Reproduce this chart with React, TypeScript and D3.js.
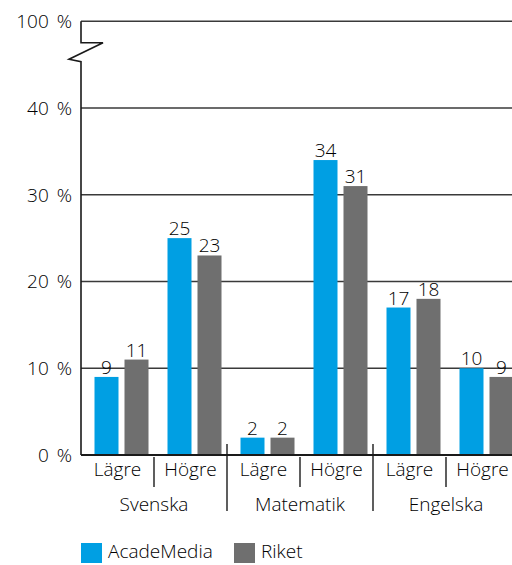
import React from "react";
import * as d3 from "d3";

const subjects = ["Svenska", "Matematik", "Engelska"];
const levels = ["Lägre", "Högre"];
const series = ["AcadeMedia", "Riket"];
const acadeMedia = [9, 25, 2, 34, 17, 10];
const riket = [11, 23, 2, 31, 18, 9];
const yTicks = [0, 10, 20, 30, 40];
const topTickLabel = "100 %";
const colors = ["#009FE3", "#6F6F6F"];

const W = 512;
const H = 565;
const FONT = "'Open Sans', 'Noto Sans', sans-serif";

export default function App() {
  const x0 = 81;
  const y = d3.scaleLinear().domain([0, 40]).range([455, 108]);
  const yTop = y(50);
  const xSubj = d3.scaleBand().domain(subjects).range([x0, 519]);
  const xLevel = d3.scaleBand().domain(levels).range([0, xSubj.bandwidth()]);
  const pairW = 54;
  const xSeries = d3.scaleBand().domain(series).range([0, pairW]).paddingInner(0.2);
  const values = [acadeMedia, riket];

  const bars: any[] = [];
  subjects.forEach((s, si) => {
    levels.forEach((l, li) => {
      const idx = si * levels.length + li;
      const cellX = (xSubj(s) as number) + (xLevel(l) as number);
      const pairX = cellX + (xLevel.bandwidth() - pairW) / 2 + 4;
      series.forEach((se, k) => {
        const v = values[k][idx];
        bars.push({ key: `${s}-${l}-${se}`, x: pairX + (xSeries(se) as number), v, color: colors[k] });
      });
    });
  });

  const textColor = "#000";
  const fw = 300;
  const fs = 19;
  const breakPath = `M${x0},${yTop} V${yTop + 21.5} H${x0 + 22} L${x0 - 12},${yTop + 38} L${x0},${yTop + 40.5} V${y(0)}`;

  return (
    <svg width={W} height={H} style={{ position: "absolute", left: 0, top: 0, display: "block" }} fontFamily={FONT} fontWeight={fw}>
      <rect width={W} height={H} fill="#fff" />
      {yTicks.filter((t) => t > 0).map((t) => (
        <line key={t} x1={x0} x2={W} y1={y(t)} y2={y(t)} stroke="#3a3a3a" strokeWidth={1.6} />
      ))}
      <line x1={x0} x2={W} y1={yTop} y2={yTop} stroke="#3a3a3a" strokeWidth={1.6} />
      {bars.map((b) => (
        <g key={b.key}>
          <rect x={b.x} y={y(b.v)} width={xSeries.bandwidth()} height={y(0) - y(b.v)} fill={b.color} />
          <text x={b.x + xSeries.bandwidth() / 2} y={y(b.v) - 3} textAnchor="middle" fontSize={fs} fill={textColor}>
            {b.v}
          </text>
        </g>
      ))}
      <path d={breakPath} fill="none" stroke="#1a1a1a" strokeWidth={1.6} />
      <line x1={x0} x2={W} y1={y(0)} y2={y(0)} stroke="#1a1a1a" strokeWidth={2} />
      {yTicks.map((t) => (
        <text key={t} x={72} y={y(t)} dy="0.36em" textAnchor="end" fontSize={fs} wordSpacing={3} fill={textColor}>
          {`${t} %`}
        </text>
      ))}
      <text x={72} y={yTop} dy="0.36em" textAnchor="end" fontSize={fs} wordSpacing={3} fill={textColor}>
        {topTickLabel}
      </text>
      {subjects.map((s, si) => {
        const sx = xSubj(s) as number;
        return (
          <g key={s}>
            {si > 0 && <line x1={sx} x2={sx} y1={y(0) - 11} y2={511} stroke="#1a1a1a" strokeWidth={1.4} />}
            <line x1={sx + xLevel.bandwidth()} x2={sx + xLevel.bandwidth()} y1={y(0) + 2} y2={487} stroke="#1a1a1a" strokeWidth={1.4} />
            {levels.map((l) => (
              <text key={l} x={sx + (xLevel(l) as number) + xLevel.bandwidth() / 2} y={476} textAnchor="middle" fontSize={fs} fill={textColor}>
                {l}
              </text>
            ))}
            <text x={sx + xSubj.bandwidth() / 2} y={511} textAnchor="middle" fontSize={fs} fill={textColor}>
              {s}
            </text>
          </g>
        );
      })}
      {series.map((se, k) => {
        const lx = k === 0 ? 81 : 234;
        return (
          <g key={se}>
            <rect x={lx} y={543} width={21} height={20} fill={colors[k]} />
            <text x={lx + 27} y={558} fontSize={fs} fill={textColor}>
              {se}
            </text>
          </g>
        );
      })}
    </svg>
  );
}
